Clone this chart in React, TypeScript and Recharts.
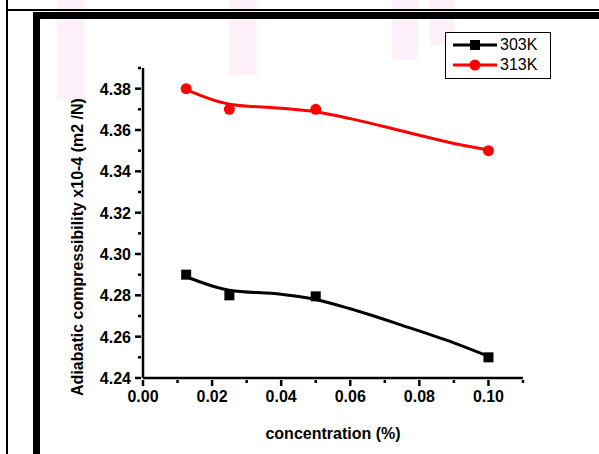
import React from "react"
import {
    ComposedChart,
    Line,
    Scatter,
    XAxis,
    YAxis,
} from "recharts"

// measured points
const concentration = [0.0125, 0.025, 0.05, 0.1]
const k303 = [4.29, 4.28, 4.2795, 4.25]
const k313 = [4.38, 4.37, 4.37, 4.35]

// fitted curves
const fitX = [0.0125, 0.025, 0.04, 0.05, 0.06, 0.075, 0.09, 0.1]
const fit303 = [4.289, 4.2825, 4.2805, 4.278, 4.2735, 4.2655, 4.257, 4.2505]
const fit313 = [4.3795, 4.3725, 4.3705, 4.3688, 4.3655, 4.3595, 4.3535, 4.3503]

const xTicks = [0, 0.01, 0.02, 0.03, 0.04, 0.05, 0.06, 0.07, 0.08, 0.09, 0.1, 0.11]
const xMajor = ["0.00", "0.02", "0.04", "0.06", "0.08", "0.10"]
const yTicks = [4.24, 4.25, 4.26, 4.27, 4.28, 4.29, 4.3, 4.31, 4.32, 4.33, 4.34, 4.35, 4.36, 4.37, 4.38, 4.39]
const yMajor = ["4.24", "4.26", "4.28", "4.30", "4.32", "4.34", "4.36", "4.38"]

const pts303 = concentration.map((x, i) => ({ x, y: k303[i] }))
const pts313 = concentration.map((x, i) => ({ x, y: k313[i] }))
const line303 = fitX.map((x, i) => ({ x, y: fit303[i] }))
const line313 = fitX.map((x, i) => ({ x, y: fit313[i] }))

const FONT = "'Liberation Sans', Arial, sans-serif"

const XTick = (props: any) => {
    const { x, y, payload } = props
    const label = payload.value.toFixed(2)
    const major = xMajor.includes(label)
    return (
        <g>
            <line x1={x} x2={x} y1={y - 6} y2={y - 6 + (major ? 6 : 3)} stroke="#000" strokeWidth={2.5} />
            {major && (
                <text x={x} y={y + 16} textAnchor="middle" fontFamily={FONT} fontWeight="bold" fontSize={16} fill="#000">
                    {label}
                </text>
            )}
        </g>
    )
}

const YTick = (props: any) => {
    const { x, y, payload } = props
    const label = payload.value.toFixed(2)
    const major = yMajor.includes(label)
    return (
        <g>
            <line x1={x + 6} x2={x + 6 - (major ? 6 : 3)} y1={y} y2={y} stroke="#000" strokeWidth={2.5} />
            {major && (
                <text x={x - 4} y={y + 6} textAnchor="end" fontFamily={FONT} fontWeight="bold" fontSize={16} fill="#000">
                    {label}
                </text>
            )}
        </g>
    )
}

const Square = (props: any) => (
    <rect x={props.cx - 5} y={props.cy - 5} width={10} height={10} fill="#000" />
)

const Dot = (props: any) => (
    <circle cx={props.cx} cy={props.cy} r={5.5} fill="#ff0000" />
)

const LegendBox = () => (
    <div
        style={{
            position: "absolute",
            left: 445,
            top: 32,
            width: 106,
            height: 47,
            border: "1.5px solid #000",
            background: "#fff",
            fontFamily: FONT,
            fontSize: 16,
            boxSizing: "border-box",
            paddingTop: 2,
            zIndex: 3,
        }}
    >
        {[
            { name: "303K", color: "#000", square: true },
            { name: "313K", color: "#ff0000", square: false },
        ].map((s) => (
            <div key={s.name} style={{ display: "flex", alignItems: "center", height: 20, paddingLeft: 7 }}>
                <svg width={46} height={12}>
                    <line x1={0} x2={44} y1={6} y2={6} stroke={s.color} strokeWidth={3} />
                    {s.square ? (
                        <rect x={17} y={1} width={10} height={10} fill={s.color} />
                    ) : (
                        <circle cx={22} cy={6} r={5.5} fill={s.color} />
                    )}
                </svg>
                <span style={{ marginLeft: 1, lineHeight: "16px" }}>{s.name}</span>
            </div>
        ))}
    </div>
)

const pink = [
    { left: 57, top: 0, width: 27, height: 100 },
    { left: 229, top: 0, width: 28, height: 75 },
    { left: 392, top: 0, width: 26, height: 60 },
    { left: 430, top: 0, width: 24, height: 45 },
]

export default function App() {
    return (
        <div style={{ position: "fixed", left: 0, top: 0, width: 599, height: 454, background: "#fff", overflow: "hidden" }}>
            {pink.map((p, i) => (
                <div key={i} style={{ position: "absolute", ...p, background: "#fdf0fb", zIndex: 0 }} />
            ))}
            {/* outer frame */}
            <div style={{ position: "absolute", left: 6, top: 0, width: 2, height: 454, background: "#000", zIndex: 2 }} />
            <div style={{ position: "absolute", left: 6, top: 9, width: 593, height: 2, background: "#000", zIndex: 2 }} />
            <div style={{ position: "absolute", left: 33, top: 12, width: 566, height: 7, background: "#000", zIndex: 2 }} />
            <div style={{ position: "absolute", left: 33, top: 12, width: 7, height: 442, background: "#000", zIndex: 2 }} />

            <div style={{ position: "absolute", left: 0, top: 0, zIndex: 1 }}>
                <ComposedChart width={599} height={454} margin={{ top: 68, right: 76, bottom: 0, left: 0 }}>
                    <XAxis
                        type="number"
                        dataKey="x"
                        domain={[0, 0.11]}
                        ticks={xTicks}
                        interval={0}
                        allowDataOverflow
                        height={76}
                        tickLine={false}
                        axisLine={{ stroke: "#000", strokeWidth: 2.5 }}
                        tick={<XTick />}
                        label={{
                            value: "concentration (%)",
                            position: "insideBottom",
                            offset: 15,
                            style: { fontFamily: FONT, fontWeight: "bold", fontSize: 16, fill: "#000" },
                        }}
                    />
                    <YAxis
                        type="number"
                        dataKey="y"
                        domain={[4.24, 4.39]}
                        ticks={yTicks}
                        interval={0}
                        allowDataOverflow
                        width={143}
                        tickLine={false}
                        axisLine={{ stroke: "#000", strokeWidth: 2.5 }}
                        tick={<YTick />}
                        label={{
                            value: "Adiabatic compressibility x10-4 (m2 /N)",
                            angle: -90,
                            position: "insideLeft",
                            offset: 77,
                            dy: 24,
                            style: { textAnchor: "middle", fontFamily: FONT, fontWeight: "bold", fontSize: 16, fill: "#000" },
                        }}
                    />
                    <Line data={line303} dataKey="y" type="monotone" stroke="#000" strokeWidth={3} dot={false} isAnimationActive={false} legendType="none" />
                    <Line data={line313} dataKey="y" type="monotone" stroke="#ff0000" strokeWidth={3} dot={false} isAnimationActive={false} legendType="none" />
                    <Scatter data={pts303} dataKey="y" shape={<Square />} isAnimationActive={false} />
                    <Scatter data={pts313} dataKey="y" shape={<Dot />} isAnimationActive={false} />
                </ComposedChart>
            </div>
            <LegendBox />
        </div>
    )
}
